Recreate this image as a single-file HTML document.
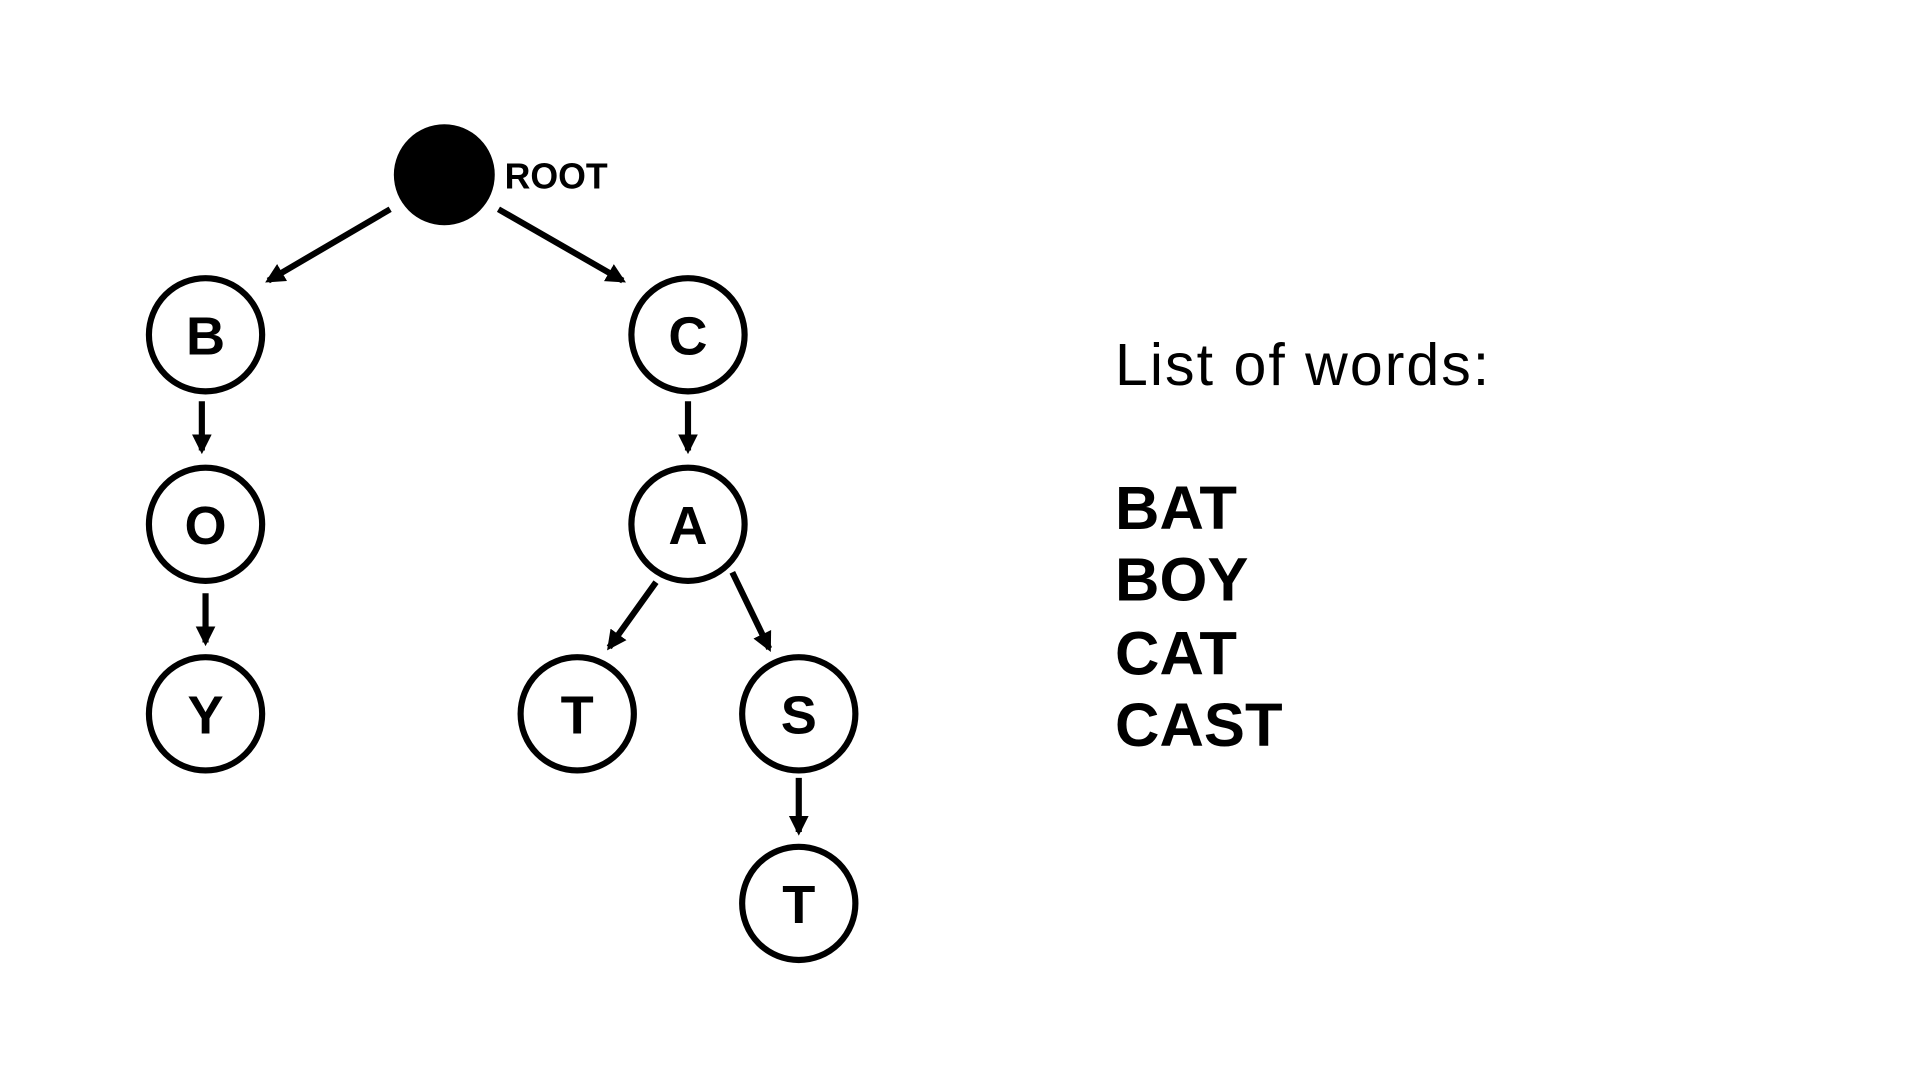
<!DOCTYPE html>
<html><head><style>html,body{margin:0;padding:0;background:#fff;}svg{display:block}</style></head>
<body>
<svg width="1920" height="1080" viewBox="0 0 1560 877.5" xmlns="http://www.w3.org/2000/svg" font-family="Liberation Sans, Arial, sans-serif">
<defs><marker id="a" markerWidth="3.2" markerHeight="3.2" refX="2.6" refY="1.6" orient="auto" markerUnits="strokeWidth"><path d="M0,0 L3.2,1.6 L0,3.2 z" fill="#000"/></marker></defs>
<g stroke="#000" stroke-width="5" fill="none" marker-end="url(#a)">
<line x1="317" y1="170" x2="218" y2="228"/>
<line x1="405" y1="170" x2="506" y2="228"/>
<line x1="164" y1="326" x2="164" y2="366"/>
<line x1="559" y1="326" x2="559" y2="366"/>
<line x1="167" y1="482" x2="167" y2="522"/>
<line x1="533" y1="473" x2="495" y2="526"/>
<line x1="595" y1="465" x2="625" y2="527"/>
<line x1="649" y1="632" x2="649" y2="676"/>
</g>
<circle cx="361" cy="142" r="41" fill="#000"/>
<g stroke="#000" stroke-width="5" fill="#fff">
<circle cx="167" cy="272" r="46"/><circle cx="559" cy="272" r="46"/>
<circle cx="167" cy="426" r="46"/><circle cx="559" cy="426" r="46"/>
<circle cx="167" cy="580" r="46"/><circle cx="469" cy="580" r="46"/>
<circle cx="649" cy="580" r="46"/><circle cx="649" cy="734" r="46"/>
</g>
<g font-weight="bold" font-size="44" text-anchor="middle">
<text x="167" y="288">B</text><text x="559" y="288">C</text>
<text x="167" y="442">O</text><text x="559" y="442">A</text>
<text x="167" y="596">Y</text><text x="469" y="596">T</text>
<text x="649" y="596">S</text><text x="649" y="750">T</text>
</g>
<text x="410" y="153" font-weight="bold" font-size="29">ROOT</text>
<text x="906" y="313" font-size="48" textLength="304">List of words:</text>
<g font-weight="bold" font-size="50">
<text x="906" y="430">BAT</text><text x="906" y="488">BOY</text>
<text x="906" y="548">CAT</text><text x="906" y="606">CAST</text>
</g>
</svg>
</body></html>
